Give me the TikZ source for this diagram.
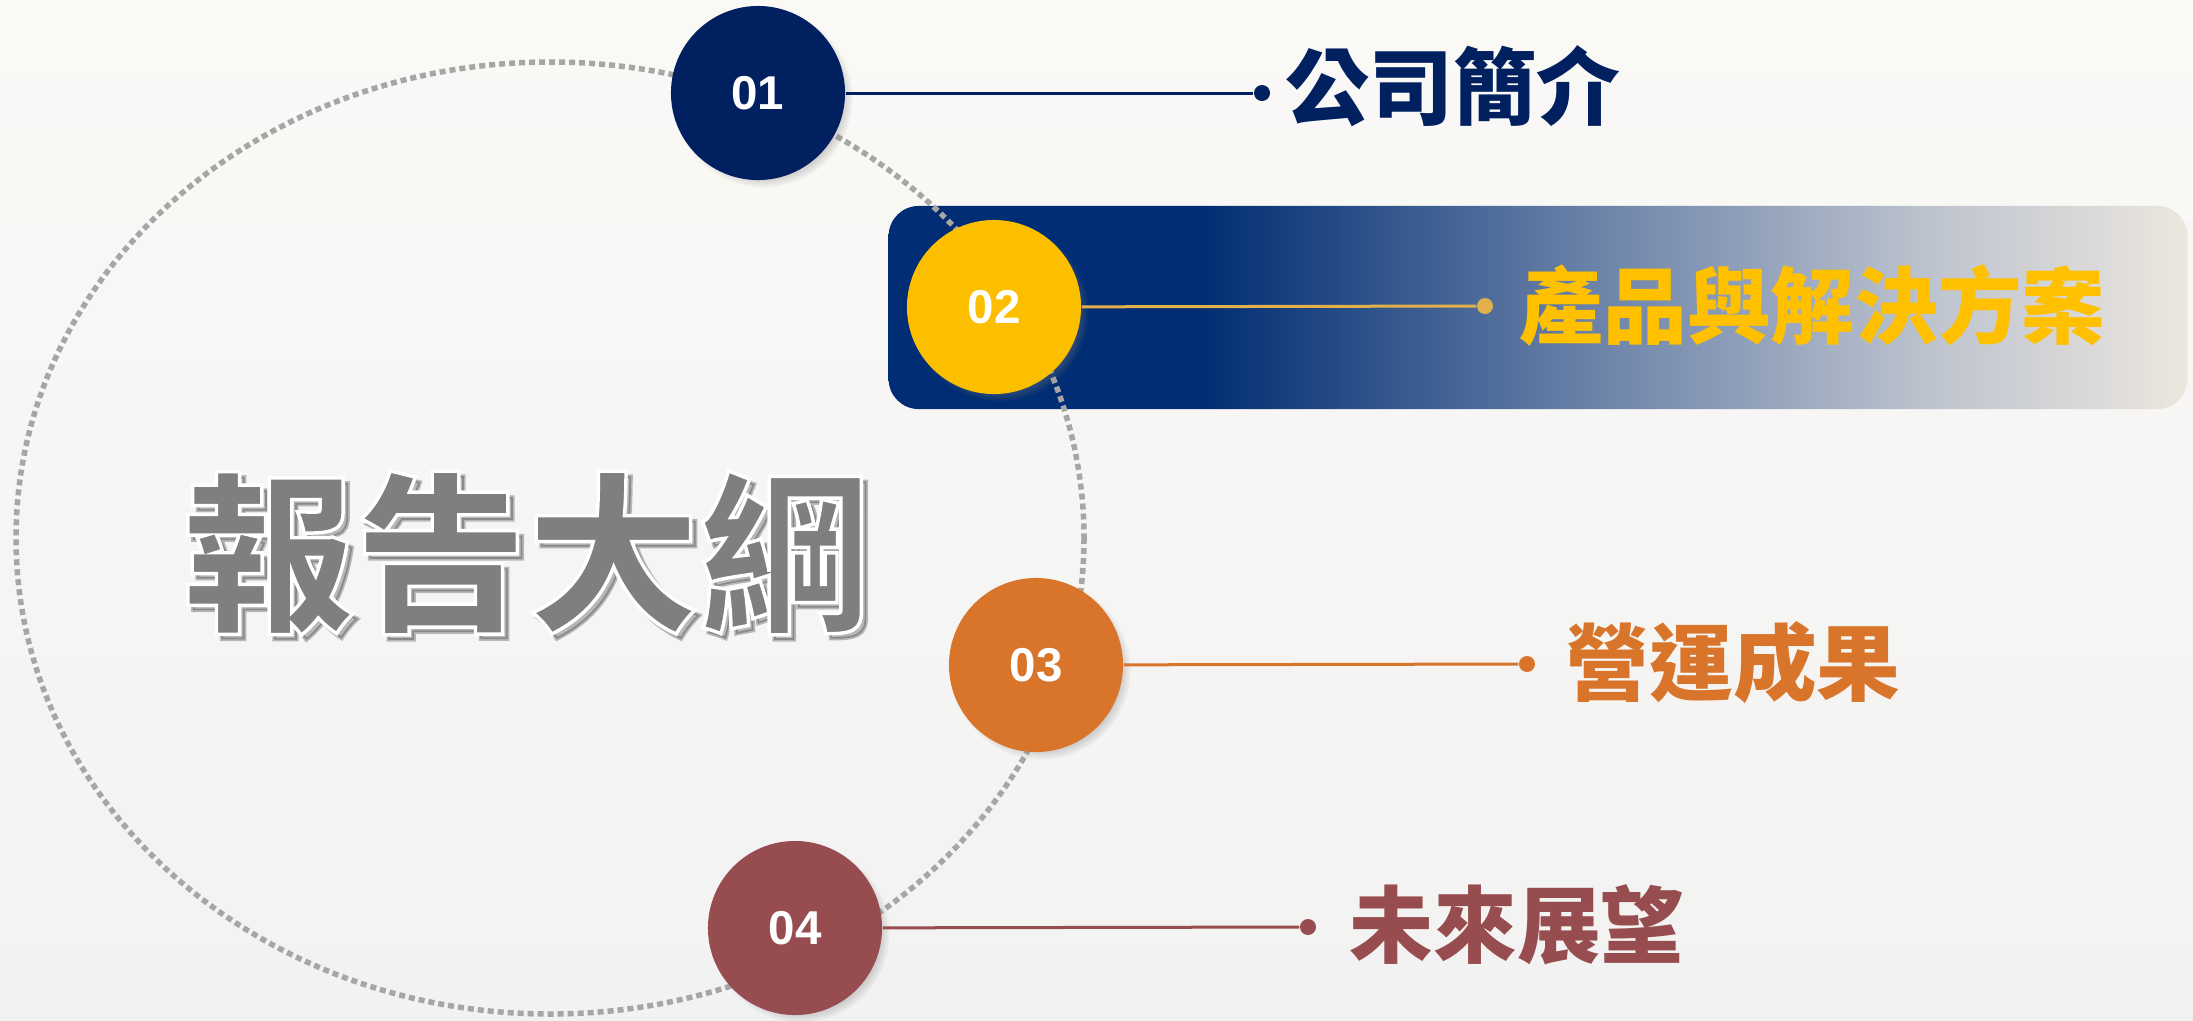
\documentclass[tikz,border=0pt]{standalone}
\usepackage{fontspec}
\newfontfamily\cjk{Noto Sans CJK TC}
\newfontfamily\cjkt{Noto Sans CJK TC}[BoldFeatures={FakeBold=2}]
\newfontfamily\numfont{Liberation Sans}
\usetikzlibrary{shadows}
\definecolor{bgtop}{HTML}{FAF9F6}
\definecolor{bgbot}{HTML}{F2F2F2}
\definecolor{cnavy}{HTML}{002060}
\definecolor{cyellow}{HTML}{FBBF00}
\definecolor{cyelline}{HTML}{E2B04A}
\definecolor{cyeltext}{HTML}{FFC000}
\definecolor{corange}{HTML}{D9752B}
\definecolor{cmaroon}{HTML}{974C4F}
\definecolor{boxnavy}{HTML}{002D73}
\definecolor{boxmid}{HTML}{6A82A8}
\definecolor{boxlight}{HTML}{BDC3CE}
\definecolor{boxend}{HTML}{ECE7DF}
\definecolor{dotgray}{HTML}{A6A6A6}
\definecolor{titlegray}{HTML}{7F7F7F}
\pgfdeclarehorizontalshading{boxshade}{100bp}{color(0bp)=(boxnavy); color(25bp)=(boxnavy); color(37bp)=(boxnavy); color(52bp)=(boxmid); color(65bp)=(boxlight); color(75bp)=(boxend); color(100bp)=(boxend)}
\begin{document}
\begin{tikzpicture}[x=0.01cm,y=-0.01cm,
  bubble/.style={circle, minimum size=1.74cm, inner sep=0pt, text=white,
    font=\numfont\bfseries\fontsize{13.5pt}{16pt}\selectfont,
    circular drop shadow={shadow xshift=0.05cm, shadow yshift=-0.05cm, shadow scale=1.03, opacity=0.45}},
  tipdot/.style={circle, inner sep=0pt, minimum size=0.16cm},
  link/.style={line width=0.03cm},
  lbl/.style={anchor=west, inner sep=0pt, font=\cjk\bfseries\fontsize{23.8pt}{28pt}\selectfont},
  titlestyle/.style={inner sep=0pt, font=\cjkt\bfseries\fontsize{49pt}{56pt}\selectfont},
  ring/.style={draw=dotgray, line width=0.055cm, dash pattern=on 0.06cm off 0.04cm}]
\useasboundingbox (0,0) rectangle (2193,1020);
\fill[top color=bgtop, bottom color=bgbot] (0,0) rectangle (2193,1020);
% highlight box
\node (box) [shade, shading=boxshade, rounded corners=0.3cm, minimum width=12.98cm, minimum height=2.03cm, inner sep=0pt] at (1538,307.5) {};
% dotted ring
\draw[ring] (550,538) ellipse [x radius=534, y radius=476];
% title: shadow, then gray glyphs stroked in white
\node (tsh) [titlestyle, text=black, opacity=0.25] at (532,558) {報告大綱};
\node (title) [titlestyle, text=titlegray] at (527,553) {\special{pdf:literal direct 1 1 1 RG}報告大綱};
% bubbles
\node (c1) [bubble, fill=cnavy] at (758,93) {01};
\node (c2) [bubble, fill=cyellow] at (994,307) {02};
\node (c3) [bubble, fill=corange] at (1036,665) {03};
\node (c4) [bubble, fill=cmaroon] at (795,928) {04};
% dots
\node (d1) [tipdot, fill=cnavy] at (1262,93) {};
\node (d2) [tipdot, fill=cyelline] at (1485,306) {};
\node (d3) [tipdot, fill=corange] at (1527,664) {};
\node (d4) [tipdot, fill=cmaroon] at (1308,927) {};
% links
\draw[link, cnavy] (c1) -- (d1);
\draw[link, cyelline] (c2) -- (d2);
\draw[link, corange] (c3) -- (d3);
\draw[link, cmaroon] (c4) -- (d4);
% labels
\node (l1) [lbl, text=cnavy] at (1285,86) {公司簡介};
\node (l2) [lbl, text=cyeltext] at (1519,305) {產品與解決方案};
\node (l3) [lbl, text=corange] at (1565,663) {營運成果};
\node (l4) [lbl, text=cmaroon] at (1349,925) {未來展望};
\end{tikzpicture}
\end{document}
